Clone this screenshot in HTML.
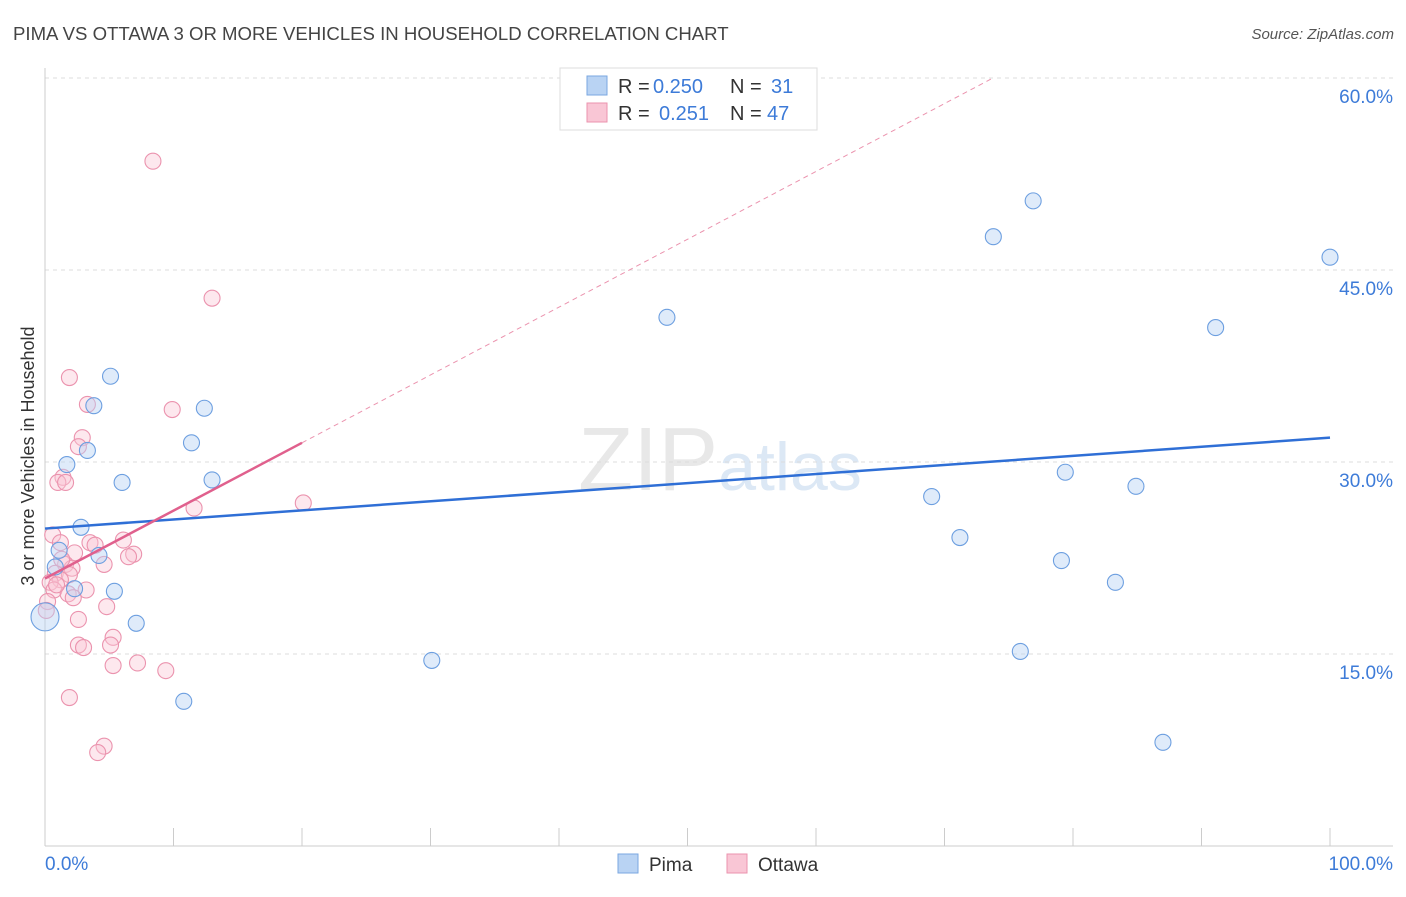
<!DOCTYPE html>
<html><head><meta charset="utf-8"><style>
body{margin:0;background:#fff;font-family:"Liberation Sans",sans-serif;}
svg text{font-family:"Liberation Sans",sans-serif;}
</style></head><body>
<svg id="chart" width="1406" height="892" xmlns="http://www.w3.org/2000/svg">
<text x="13" y="40" font-size="18.6" fill="#444">PIMA VS OTTAWA 3 OR MORE VEHICLES IN HOUSEHOLD CORRELATION CHART</text>
<text x="1394" y="39" font-size="15" fill="#555" text-anchor="end" font-style="italic">Source: ZipAtlas.com</text>
<text x="720" y="490" font-size="90" fill="#e8e8e8" text-anchor="middle" font-family="Liberation Serif">ZIP<tspan fill="#dce8f5" font-family="Liberation Sans" font-size="68">atlas</tspan></text>
<text transform="translate(34,456) rotate(-90)" font-size="18" fill="#333" text-anchor="middle">3 or more Vehicles in Household</text>
<g id="grid"></g><g id="marks"></g>
<g>
<rect x="560" y="68" width="257" height="62" fill="#fff" stroke="#ddd"/>
<rect x="587" y="76" width="20" height="19" fill="#b9d3f3" stroke="#7aa7e0"/>
<text x="618" y="93" font-size="20" fill="#333">R =</text>
<text x="653" y="93" font-size="20" fill="#3d7bd8">0.250</text>
<text x="730" y="93" font-size="20" fill="#333">N =</text>
<text x="771" y="93" font-size="20" fill="#3d7bd8">31</text>
<rect x="587" y="103" width="20" height="19" fill="#f9c6d5" stroke="#eb93ae"/>
<text x="618" y="120" font-size="20" fill="#333">R =</text>
<text x="659" y="120" font-size="20" fill="#3d7bd8">0.251</text>
<text x="730" y="120" font-size="20" fill="#333">N =</text>
<text x="767" y="120" font-size="20" fill="#3d7bd8">47</text>
</g>
<g>
<rect x="618" y="854" width="20" height="19" fill="#b9d3f3" stroke="#7aa7e0"/>
<text x="649" y="871" font-size="19" fill="#333">Pima</text>
<rect x="727" y="854" width="20" height="19" fill="#f9c6d5" stroke="#eb93ae"/>
<text x="758" y="871" font-size="19" fill="#333">Ottawa</text>
</g>
</svg>
<script>
const yTicks=[15,30,45,60];
const xTickLabels=["0.0%","100.0%"];
const pimaX=[0,1.7,5.1,3.8,3.3,6.0,2.8,1.1,0.8,4.2,2.3,5.4,7.1,11.4,12.4,13.0,10.8,30.1,48.4,69.0,71.2,73.8,75.9,76.9,79.1,79.4,83.3,84.9,87.0,91.1,100];
const pimaY=[17.9,29.8,36.7,34.4,30.9,28.4,24.9,23.1,21.8,22.7,20.1,19.9,17.4,31.5,34.2,28.6,11.3,14.5,41.3,27.3,24.1,47.6,15.2,50.4,22.3,29.2,20.6,28.1,8.1,40.5,46.0];
const ottX=[8.4,13.0,1.9,3.3,9.9,2.9,2.6,1.4,1.0,1.6,20.1,11.6,0.6,1.2,3.5,6.1,2.3,6.9,6.5,4.6,1.6,2.1,0.8,1.9,1.2,0.4,0.7,1.8,3.2,0.2,4.8,2.6,5.3,5.1,2.6,3.0,7.2,5.3,9.4,1.9,4.6,4.1,0.1,0.9,1.3,3.9,2.2];
const ottY=[53.5,42.8,36.6,34.5,34.1,31.9,31.2,28.8,28.4,28.4,26.8,26.4,24.3,23.7,23.7,23.9,22.9,22.8,22.6,22.0,22.0,21.7,21.3,21.2,20.8,20.6,20.0,19.7,20.0,19.1,18.7,17.7,16.3,15.7,15.7,15.5,14.3,14.1,13.7,11.6,7.8,7.3,18.4,20.4,22.4,23.5,19.4];
const pimaTrend=[24.8,31.9];
const ottTrend=[20.9,0.53];
const X=v=>45+v*12.85, Y=v=>846-v*12.8;
const NS="http://www.w3.org/2000/svg";
const grid=document.getElementById('grid'), marks=document.getElementById('marks');
function mk(tag,attrs,parent){const e=document.createElementNS(NS,tag);for(const k in attrs)e.setAttribute(k,attrs[k]);parent.appendChild(e);return e;}
yTicks.forEach(t=>{
 const l=mk('line',{x1:45,x2:1393,y1:Y(t),y2:Y(t),stroke:'#ddd','stroke-dasharray':'4,4'},grid);
 
 
 const tx=mk('text',{x:1393,y:Y(t)+25,'font-size':19,fill:'#3d7bd8','text-anchor':'end'},grid);
 tx.textContent=t.toFixed(1)+'%';
 
 
});
const ax=mk('line',{x1:45,x2:1393,y1:846,y2:846,stroke:'#ccc'},grid);


const ay=mk('line',{x1:45,x2:45,y1:68,y2:846,stroke:'#ccc'},grid);


for(let i=0;i<=10;i++){const t=mk('line',{x1:X(i*10),x2:X(i*10),y1:828,y2:846,stroke:'#ccc'},grid);
 
 }
[[0,'start',45],[100,'end',1393]].forEach((d,i)=>{const t=mk('text',{x:d[2],y:870,'font-size':19,fill:'#3d7bd8','text-anchor':d[1]},grid);t.textContent=xTickLabels[i];
 
 });
ottX.forEach((x,i)=>{const c=mk('circle',{cx:X(x),cy:Y(ottY[i]),r:8,fill:'rgba(249,198,213,0.4)',stroke:'#eb93ae','stroke-width':1.1},marks);
 
 });
pimaX.forEach((x,i)=>{const c=mk('circle',{cx:X(x),cy:Y(pimaY[i]),r:i==0?14:8,fill:'rgba(185,211,243,0.45)',stroke:'#6d9fe0','stroke-width':1.1},marks);
 
 });
const pl=mk('line',{x1:X(0),y1:Y(pimaTrend[0]),x2:X(100),y2:Y(pimaTrend[1]),stroke:'#2f6fd6','stroke-width':2.5},marks);


const xe=(60-ottTrend[0])/ottTrend[1];
const od=mk('line',{x1:X(20),y1:Y(ottTrend[0]+20*ottTrend[1]),x2:X(xe),y2:Y(60),stroke:'#eb93ae','stroke-width':1,'stroke-dasharray':'5,4'},marks);


const ol=mk('line',{x1:X(0),y1:Y(ottTrend[0]),x2:X(20),y2:Y(ottTrend[0]+20*ottTrend[1]),stroke:'#e0608d','stroke-width':2.5},marks);


</script>
</body></html>
